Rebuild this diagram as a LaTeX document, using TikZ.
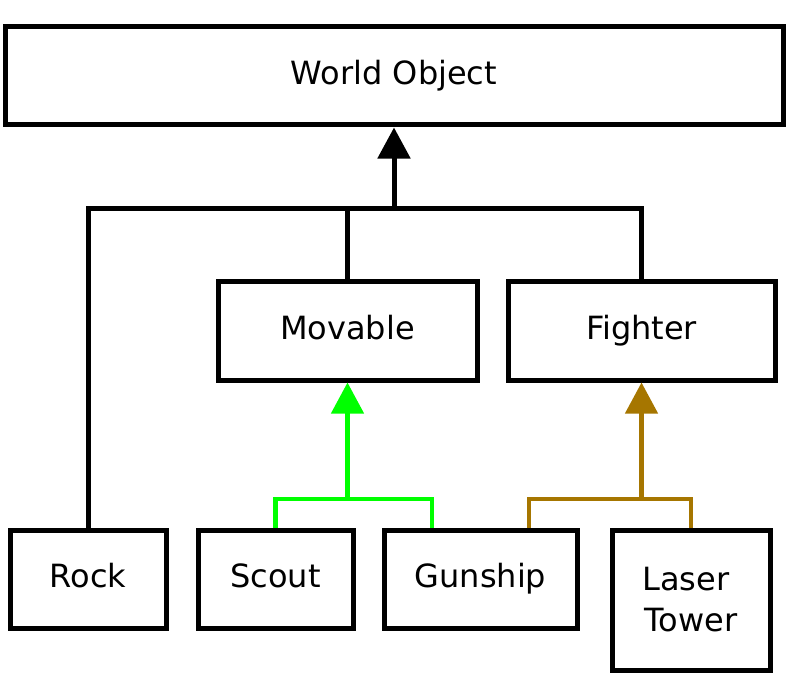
\documentclass[tikz,border=0pt]{standalone}
\usepackage{fontspec}
\setmainfont{DejaVu Sans}
\usetikzlibrary{arrows.meta}
\definecolor{inhgreen}{RGB}{0,255,0}
\definecolor{inhbrown}{RGB}{166,118,0}

\begin{document}
\begin{tikzpicture}[x=1pt,y=-1pt,
		box/.style={draw, line width=5pt, inner sep=0pt, align=center,
			font=\fontsize{32}{41}\selectfont},
		cls/.style={box, text height=24pt, text depth=7pt},
		link/.style={line width=5pt},
		clink/.style={line width=4.5pt},
		inh/.style={-{Triangle[length=31pt,width=32pt]}}]
		\useasboundingbox (0,0) rectangle (791,695);
		% classes
		\node[cls, minimum width=778pt, minimum height=98pt] (world) at (394,76) {World Object};
		\node[cls, minimum width=259pt, minimum height=99pt] (movable) at (347.5,330.5) {Movable};
		\node[cls, minimum width=267pt, minimum height=99pt] (fighter) at (641.5,330.5) {Fighter};
		\node[cls, minimum width=156pt, minimum height=98pt] (rock) at (88,579) {Rock};
		\node[cls, minimum width=155pt, minimum height=98pt] (scout) at (275.5,579) {Scout};
		\node[cls, minimum width=193pt, minimum height=98pt] (gunship) at (480.5,579) {Gunship};
		\node[box, minimum width=158pt, minimum height=140pt] (laser) at (691,600) {Laser\kern0.32em\\Tower};
		% joints
		\coordinate (jworld) at (394,208);
		\coordinate (jmov) at (347.5,499);
		\coordinate (jfight) at (641.5,499);
		% inheritance
		\draw[link] (rock.north) |- (jworld);
		\draw[link] (movable.north) |- (jworld);
		\draw[link] (fighter.north) |- (jworld);
		\draw[link, inh] (jworld) -- (world.south);
		\draw[clink, inhgreen] (scout.north) |- (jmov);
		\draw[clink, inhgreen] ([xshift=-48.5pt]gunship.north) |- (jmov);
		\draw[clink, inh, inhgreen] (jmov) -- (movable.south);
		\draw[clink, inhbrown] ([xshift=48.5pt]gunship.north) |- (jfight);
		\draw[clink, inhbrown] (laser.north) |- (jfight);
		\draw[clink, inh, inhbrown] (jfight) -- (fighter.south);
	\end{tikzpicture}
\end{document}
